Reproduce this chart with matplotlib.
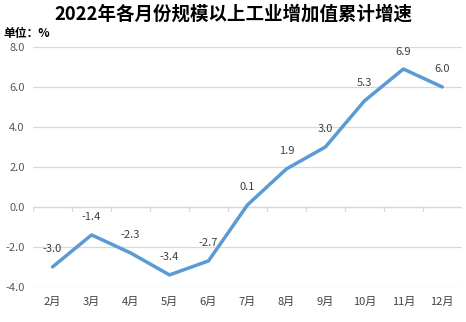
import matplotlib.pyplot as plt
import numpy as np

plt.rcParams['font.family'] = ['Noto Sans CJK SC', 'DejaVu Sans']

months = ['2月', '3月', '4月', '5月', '6月', '7月', '8月', '9月', '10月', '11月', '12月']
growth = [-3.0, -1.4, -2.3, -3.4, -2.7, 0.1, 1.9, 3.0, 5.3, 6.9, 6.0]

fig = plt.figure(figsize=(4.66, 3.22), dpi=100)
ax = fig.add_axes([0.071, 0.109, 0.92, 0.745])

x = np.arange(len(months))
ax.plot(x, growth, color='#5B9BD5', lw=2.5, solid_capstyle='round', zorder=3)
for xi, v in zip(x, growth):
    ax.annotate('%.1f' % v, (xi, v), xytext=(0, 9), textcoords='offset points',
                ha='center', va='bottom', fontsize=8, color='#404040')

ax.set_xlim(-0.5, len(months) - 0.5)
ax.set_ylim(-4, 8)
ax.set_yticks(np.arange(-4, 8.1, 2))
ax.set_yticklabels(['%.1f' % t for t in np.arange(-4, 8.1, 2)])
ax.grid(axis='y', color='#D9D9D9', lw=0.9)
ax.set_axisbelow(True)
for s in ax.spines.values():
    s.set_visible(False)

# category axis drawn through zero
ax.axhline(0, color='#D9D9D9', lw=0.9, zorder=1)
for b in np.arange(-0.5, len(months), 1):
    ax.plot([b, b], [0, -0.22], color='#D9D9D9', lw=0.9, zorder=1)

ax.set_xticks(x)
ax.set_xticklabels(months)
ax.tick_params(axis='x', length=0, pad=7, labelsize=8, labelcolor='#404040')
ax.tick_params(axis='y', length=0, pad=6, labelsize=8, labelcolor='#595959')

fig.text(0.5, 0.955, '2022年各月份规模以上工业增加值累计增速', ha='center', va='center',
         fontsize=13.3, fontweight='bold', color='black')
fig.text(0.008, 0.895, '单位：%', ha='left', va='center', fontsize=8.5, fontweight='bold')

fig.savefig('out.png', dpi=100)
